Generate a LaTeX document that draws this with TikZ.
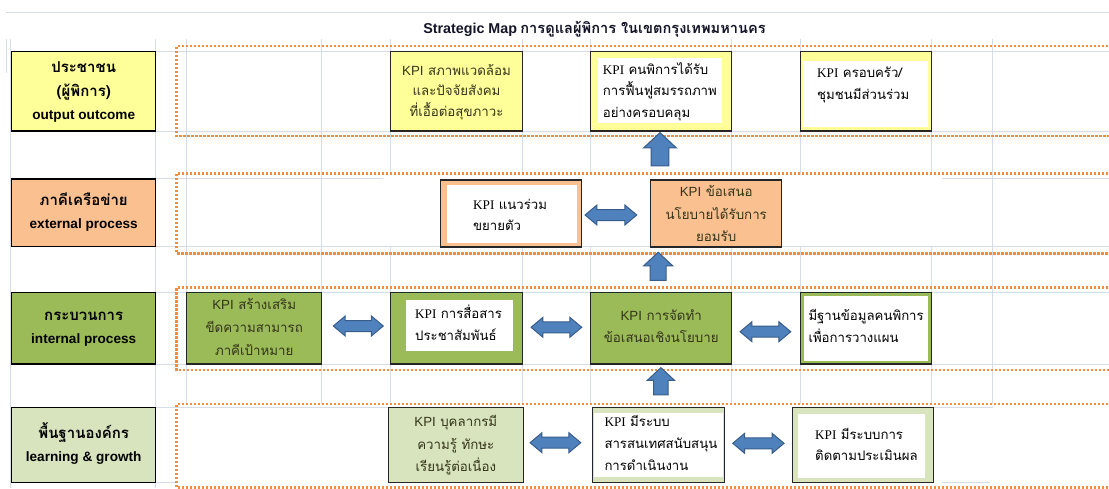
\documentclass[tikz,border=0pt]{standalone}
\usepackage{fontspec}
\newfontfamily\thfont[Script=Thai]{Loma}
\newfontfamily\latfont{Liberation Sans}
\newfontfamily\serfont{Liberation Serif}
\usetikzlibrary{shapes.arrows,fit}
\newcommand\lnst{\rule[-0.45em]{0pt}{1.42em}}
\definecolor{gridc}{RGB}{214,220,232}
\definecolor{dotc}{RGB}{245,140,60}
\definecolor{yel}{RGB}{255,255,153}
\definecolor{ora}{RGB}{250,192,144}
\definecolor{grn}{RGB}{155,187,89}
\definecolor{lgrn}{RGB}{215,228,189}
\definecolor{arrf}{RGB}{79,129,189}
\definecolor{arrd}{RGB}{56,93,138}
\definecolor{kpit}{RGB}{52,52,26}
\definecolor{edge}{RGB}{38,38,38}
\definecolor{titc}{RGB}{20,20,40}
\tikzset{
  gridline/.style={draw=gridc, line width=0.8pt},
  dotbox/.style={draw=dotc, line width=2.6pt, dash pattern=on 2.2pt off 1.8pt},
  hdr/.style={draw=black, line width=1.5pt, inner sep=0pt},
  kbox/.style={draw=edge, line width=1.2pt, inner sep=0pt},
  hdrtext/.style={inner sep=0pt, align=center, text=black, font=\fontsize{13.6}{23.5}\selectfont\bfseries},
  kpitext/.style={inner sep=0pt, align=center, text=kpit, font=\thfont\fontsize{13.3}{22}\selectfont},
  wtext/.style={inner sep=0pt, align=left, anchor=west, text=black, font=\thfont\fontsize{13.2}{21.7}\selectfont},
  dblarr/.style={double arrow, draw=arrd, fill=arrf, line width=1pt, inner sep=0pt, text height=10pt, text depth=0pt, text width=0pt, double arrow head extend=4.5pt, double arrow tip angle=80},
  uparr/.style={single arrow, draw=arrd, fill=arrf, line width=1pt, inner sep=0pt, rotate=90, text depth=0pt, text width=0pt, single arrow tip angle=94},
}
\newcommand\thb[1]{{\thfont\fontsize{15}{23.5}\selectfont #1}}
\begin{document}
\begin{tikzpicture}[x=1pt,y=-1pt]
\useasboundingbox[fill=white] (0,0) rectangle (1109,488);
% spreadsheet grid
\foreach \x in {10,155.7,186.7,321.7,390.7,522.3,590.7,731.7,800.7,931.7,992.7}
  \draw[gridline] (\x,39.3) -- (\x,488);
\foreach \y in {51,131,178.3,246.7,292.3,364,407.7,482.3}
  \draw[gridline] (10,\y) -- (1109,\y);
\draw[gridline] (6,12.7) -- (1109,12.7);
\draw[gridline] (6,39.3) -- (6,73);
\fill[white] (383,174.5) rectangle (941.7,246);
\fill[white] (177,404) rectangle (1109,488);
\draw[gridline] (177,407.7) -- (388,407.7);
\draw[gridline] (933,407.7) -- (992.7,407.7);
\draw[gridline] (941.7,482.3) -- (990,482.3);
% title
\node[inner sep=0pt, text=titc] (title) at (594.5,29.5)
  {{\latfont\bfseries\fontsize{14.3}{16}\selectfont Strategic Map} {\thfont\bfseries\fontsize{14.6}{16}\selectfont การดูแลผู้พิการ ในเขตกรุงเทพมหานคร}};
% dotted row frames
\draw[dotbox] (1112,46) -| (176.7,136) -- (1112,136);
\draw[dotbox] (1112,173.3) -| (176.7,253.3) -- (1112,253.3);
\draw[dotbox] (1112,287.7) -| (176.7,370) -- (1112,370);
\draw[dotbox] (1112,404) -| (176.7,487.3) -- (1112,487.3);
% headers
\node[hdr, fill=yel, fit={(11.7,51.7)(155.7,131)}] (H1) {};
\node[hdrtext] (H1t) at (83.7,92.7) {\lnst\thb{ประชาชน}\\\lnst\thb{(ผู้พิการ)}\\\lnst{\latfont output outcome}};
\node[hdr, fill=ora, fit={(11.7,179)(155.7,246.7)}] (H2) {};
\node[hdrtext] (H2t) at (83.7,213.7) {\lnst\thb{ภาคีเครือข่าย}\\\lnst{\latfont external process}};
\node[hdr, fill=grn, fit={(11.7,292.3)(155.7,364)}] (H3) {};
\node[hdrtext] (H3t) at (83.7,328.7) {\lnst\thb{กระบวนการ}\\\lnst{\latfont internal process}};
\node[hdr, fill=lgrn, fit={(11.7,407.7)(155.7,482.3)}] (H4) {};
\node[hdrtext] (H4t) at (83.7,445.3) {\lnst\thb{พื้นฐานองค์กร}\\\lnst{\latfont learning \& growth}};
% row 1
\node[kbox, fill=yel, fit={(390.7,51.7)(522.3,131)}] (A1) {};
\node[kpitext, font=\thfont\fontsize{13.3}{20.5}\selectfont] (A1t) at (456.5,92.2) {\lnst{\latfont KPI} สภาพแวดล้อม\\\lnst และปัจจัยสังคม\\\lnst ที่เอื้อต่อสุขภาวะ};
\node[kbox, fill=yel, fit={(590.7,51.7)(731.7,131)}] (A2) {};
\fill[white] (597.7,58.3) rectangle (721.7,123.3);
\node[wtext] (A2t) at (602.7,92.3) {\lnst{\serfont KPI} คนพิการได้รับ\\\lnst การฟื้นฟูสมรรถภาพ\\\lnst อย่างครอบคลุม};
\node[kbox, fill=yel, fit={(800.7,51.7)(931.7,131)}] (A3) {};
\fill[white] (803.3,61) rectangle (928.3,126.7);
\node[wtext] (A3t) at (817,84.9) {\lnst{\serfont KPI} ครอบครัว/\\\lnst ชุมชนมีส่วนร่วม};
% row 2
\node[kbox, fill=ora, fit={(440.7,180)(581.7,247)}] (B1) {};
\fill[white] (446.7,185) rectangle (577.3,243);
\node[wtext, font=\thfont\fontsize{13.2}{21}\selectfont] (B1t) at (473,216.2) {\lnst{\serfont KPI} แนวร่วม\\\lnst ขยายตัว};
\node[kbox, fill=ora, fit={(650.7,180)(781.7,247)}] (B2) {};
\node[kpitext, font=\thfont\fontsize{13.3}{22.5}\selectfont] (B2t) at (716.2,215.8) {\lnst{\latfont KPI} ข้อเสนอ\\\lnst นโยบายได้รับการ\\\lnst ยอมรับ};
% row 3
\node[kbox, fill=grn, fit={(186.7,292.3)(321.7,364)}] (C1) {};
\node[kpitext, font=\thfont\fontsize{13.3}{23}\selectfont] (C1t) at (254.2,328.7) {\lnst{\latfont KPI} สร้างเสริม\\\lnst ขีดความสามารถ\\\lnst ภาคีเป้าหมาย};
\node[kbox, fill=grn, fit={(390.7,292.3)(522.3,364)}] (C2) {};
\fill[white] (406,300) rectangle (513.3,351);
\node[wtext] (C2t) at (415,325.9) {\lnst{\serfont KPI} การสื่อสาร\\\lnst ประชาสัมพันธ์};
\node[kbox, fill=grn, fit={(590.7,292.3)(731.7,364)}] (C3) {};
\node[kpitext] (C3t) at (661.2,328.3) {\lnst{\latfont KPI} การจัดทำ\\\lnst ข้อเสนอเชิงนโยบาย};
\node[kbox, fill=grn, fit={(800.7,292.3)(931.7,364)}] (C4) {};
\fill[white] (803.5,295.5) rectangle (928.3,360.5);
\node[wtext] (C4t) at (808.3,328.3) {\lnst มีฐานข้อมูลคนพิการ\\\lnst เพื่อการวางแผน};
% row 4
\node[kbox, fill=lgrn, fit={(388.3,407.5)(523.3,482.3)}] (D1) {};
\node[kpitext, font=\thfont\fontsize{13.3}{22.5}\selectfont] (D1t) at (455.8,445.8) {\lnst{\latfont KPI} บุคลากรมี\\\lnst ความรู้ ทักษะ\\\lnst เรียนรู้ต่อเนื่อง};
\node[kbox, fill=lgrn, fit={(592.3,407.5)(724.3,482.3)}] (D2) {};
\fill[white] (594.3,413.3) rectangle (722.7,476.7);
\node[wtext] (D2t) at (604.3,445) {\lnst{\serfont KPI} มีระบบ\\\lnst สารสนเทศสนับสนุน\\\lnst การดำเนินงาน};
\node[kbox, fill=lgrn, fit={(792.7,407.5)(933.3,482.3)}] (D3) {};
\fill[white] (797.7,414) rectangle (925,477.7);
\node[wtext, font=\thfont\fontsize{13.2}{21.3}\selectfont] (D3t) at (815,446.7) {\lnst{\serfont KPI} มีระบบการ\\\lnst ติดตามประเมินผล};
% double arrows
\node[dblarr, minimum height=51.7pt] (dB) at (610.9,215) {};
\node[dblarr, minimum height=50pt] (dC1) at (358.3,326) {};
\node[dblarr, minimum height=50.7pt] (dC2) at (556.4,327.3) {};
\node[dblarr, minimum height=50.7pt] (dC3) at (765.4,331.7) {};
\node[dblarr, minimum height=50.7pt] (dD1) at (555.4,442.7) {};
\node[dblarr, minimum height=51.3pt] (dD2) at (758.4,443.3) {};
% up arrows
\node[uparr, minimum height=33.3pt, text height=16.6pt, single arrow head extend=7.7pt] (u1) at (660,153.35) {};
\node[uparr, minimum height=28pt, text height=15pt, single arrow head extend=6.65pt] (u2) at (658.2,270) {};
\node[uparr, minimum height=27.3pt, text height=13.4pt, single arrow head extend=6.45pt] (u3) at (660.9,384.65) {};
\end{tikzpicture}
\end{document}
